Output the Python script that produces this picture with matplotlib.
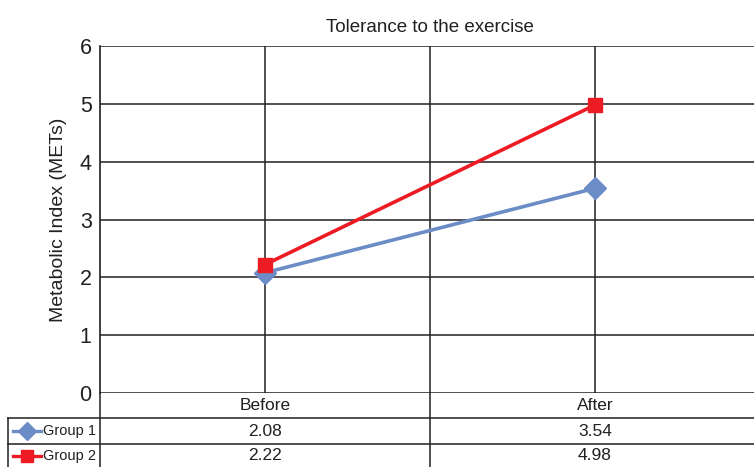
import matplotlib.pyplot as plt
from matplotlib.lines import Line2D

# data
categories = ['Before', 'After']
group1 = [2.08, 3.54]
group2 = [2.22, 4.98]
series_names = ['Group 1', 'Group 2']

plt.rcParams['font.family'] = ['Liberation Sans', 'DejaVu Sans']

W, H = 754, 467
fig = plt.figure(figsize=(W / 100, H / 100), dpi=100)
ink = '#231f20'
blue = '#6b8cc7'
red = '#ed1c24'


def fx(px):
    return px / W


def fy(py):
    return 1 - py / H


# plot area in pixels: x 100..760, y 46..393
ax = fig.add_axes([fx(100), fy(393), fx(760) - fx(100), fy(46) - fy(393)])
x = list(range(len(categories)))
ax.set_xlim(-0.5, len(categories) - 0.5)
ax.set_ylim(0, 6)
ax.set_yticks(range(7))
ax.tick_params(axis='y', length=0, labelsize=15.5, pad=6, colors=ink)
ax.set_xticks([])
for s in ax.spines.values():
    s.set_visible(False)
ax.spines['left'].set_visible(True)
ax.spines['left'].set_color(ink)
ax.spines['left'].set_linewidth(1.2)

grid_kw = dict(color=ink, lw=1.1, zorder=1)
for yv in range(7):
    ax.axhline(yv, **grid_kw)
for xv in [0, 0.5, 1]:
    ax.axvline(xv, **grid_kw)

ax.plot(x, group1, color=blue, lw=2.6, marker='D', markersize=11, zorder=3)
ax.plot(x, group2, color=red, lw=2.6, marker='s', markersize=10, zorder=4)

ax.set_title('Tolerance to the exercise', fontsize=13.5, pad=10, color=ink)
ax.set_ylabel('Metabolic Index (METs)', fontsize=14, labelpad=9, color=ink)

# data table under the plot
line_kw = dict(color=ink, lw=1.1)


def hline(y, x0, x1):
    fig.add_artist(Line2D([fx(x0), fx(x1)], [fy(y), fy(y)], **line_kw))


def vline(xp, y0, y1):
    fig.add_artist(Line2D([fx(xp), fx(xp)], [fy(y0), fy(y1)], **line_kw))


hline(418, 8, 760)
hline(444, 8, 760)
vline(8, 418, 470)
vline(100, 393, 470)
vline(430, 393, 470)

centers = [265, 595]
for c, cat in zip(centers, categories):
    fig.text(fx(c), fy(406), cat, ha='center', va='center', fontsize=12.5, color=ink)

rows = [(group1, blue, 'D', 9), (group2, red, 's', 8)]
row_y = [431, 456]
for (vals, col, mk, ms), ry, name in zip(rows, row_y, series_names):
    key = Line2D([fx(13), fx(27), fx(41)], [fy(ry)] * 3, color=col, lw=2.4,
                 marker=mk, markersize=ms, markevery=[1])
    fig.add_artist(key)
    fig.text(fx(43), fy(ry), name, ha='left', va='center', fontsize=10.5, color=ink)
    for c, v in zip(centers, vals):
        fig.text(fx(c), fy(ry), f'{v:.2f}', ha='center', va='center', fontsize=12.5,
                 color=ink)

fig.savefig('out.png', dpi=100)
